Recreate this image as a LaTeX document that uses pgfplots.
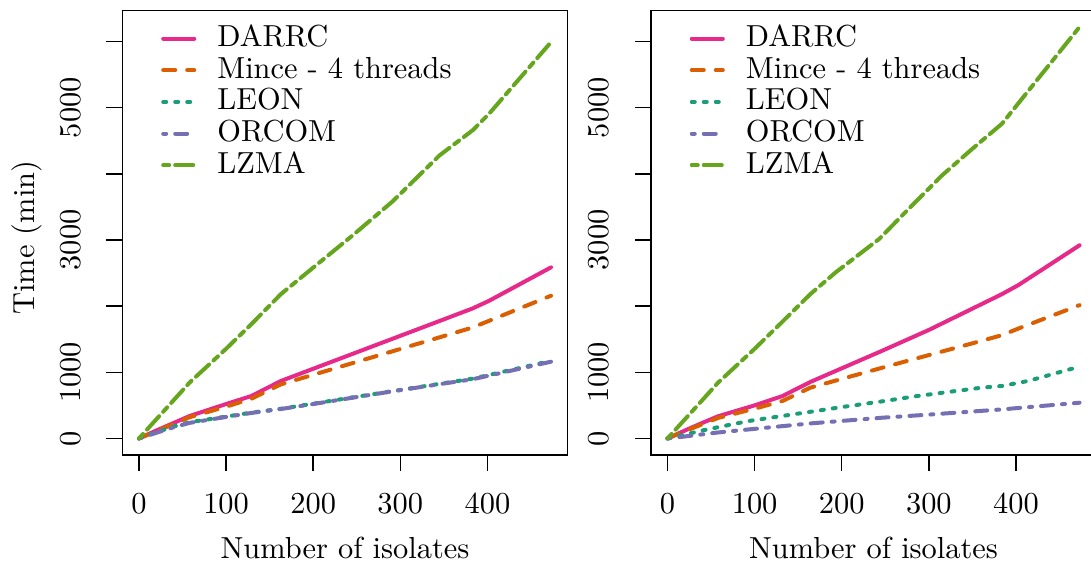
\documentclass[11pt,border=0pt]{standalone}
\usepackage{pgfplots}
\pgfplotsset{compat=1.18}

% Dark2 palette
\definecolor{cDARRC}{HTML}{E7298A}
\definecolor{cMince}{HTML}{D95F02}
\definecolor{cLEON}{HTML}{1B9E77}
\definecolor{cORCOM}{HTML}{7570B3}
\definecolor{cLZMA}{HTML}{66A61E}

\pgfplotsset{
  lDARRC/.style={cDARRC, line width=1.44pt, solid, line cap=round, line join=round},
  lMince/.style={cMince, line width=1.44pt, dash pattern=on 4.32pt off 4.32pt, line cap=round, line join=round},
  lLEON/.style={cLEON, line width=1.44pt, dash pattern=on 1.08pt off 3.24pt, line cap=round, line join=round},
  lORCOM/.style={cORCOM, line width=1.44pt, dash pattern=on 1.08pt off 3.24pt on 4.32pt off 3.24pt, line cap=round, line join=round},
  lLZMA/.style={cLZMA, line width=1.44pt, dash pattern=on 2.16pt off 2.16pt on 6.48pt off 2.16pt, line cap=round, line join=round},
  rpanel/.style={
    scale only axis, width=160.2pt, height=160.0pt,
    xmin=-18.9, xmax=491.9, ymin=-248.8, ymax=6468.8,
    axis line style={line width=0.5pt},
    every tick/.style={black, line width=0.5pt},
    tick align=outside, major tick length=5.8pt, tick pos=left,
    xtick={0,100,...,400}, ytick={0,1000,...,6000},
    yticklabels={0,1000,{},3000,{},5000,{}},
    xticklabel style={anchor=base, yshift=-15.2pt},
    yticklabel style={xshift=-9.4pt, rotate=90, anchor=base},
    xlabel={Number of isolates},
    xlabel style={at={(axis description cs:0.5,0)}, anchor=base, yshift=-37.2pt},
    legend style={draw=none, fill=none, at={(axis description cs:0.087,0.970)},
      anchor=north west, inner sep=0pt, outer sep=0pt, row sep=0pt, column sep=7.6pt,
      nodes={inner sep=0pt, text height=8.2pt, text depth=3.2pt}},
    legend cell align=left,
    legend image code/.code={\draw[##1] (0.72pt,0.4pt) -- (11.9pt,0.4pt);},
  },
}

\begin{document}
\begin{tikzpicture}
\begin{axis}[rpanel, at={(0pt,0pt)}, anchor=north west,
  ylabel={Time (min)},
  ylabel style={at={(axis description cs:-0.198,0.489)}, anchor=base},
]
\addplot[lDARRC] coordinates {(0,0) (20,120) (40,235) (58,338) (100,520) (129,641) (163,869) (200,1053) (245,1277) (291,1506) (345,1775) (383,1965) (402,2081) (473,2586)};
\addplot[lMince] coordinates {(0,0) (20,110) (40,220) (58,320) (100,480) (129,600) (163,818) (200,962) (245,1138) (291,1317) (345,1528) (383,1677) (402,1778) (473,2157)};
\addplot[lLEON] coordinates {(0,0) (20,95) (40,180) (58,245) (100,330) (129,390) (163,449) (200,525) (245,620) (291,715) (345,825) (383,904) (402,960) (473,1172)};
\addplot[lORCOM] coordinates {(0,0) (20,85) (40,170) (58,235) (100,325) (129,385) (163,445) (200,520) (245,615) (291,712) (345,820) (383,895) (402,950) (473,1160)};
\addplot[lLZMA] coordinates {(0,0) (20,290) (40,580) (58,843) (100,1355) (129,1727) (163,2182) (200,2582) (245,3066) (291,3581) (345,4278) (383,4657) (402,4909) (473,5990)};
\legend{DARRC, Mince - 4 threads, LEON, ORCOM, LZMA}
\end{axis}
\begin{axis}[rpanel, at={(190.3pt,0pt)}, anchor=north west]
\addplot[lDARRC] coordinates {(0,0) (20,120) (40,235) (58,335) (100,500) (132,641) (164,854) (200,1060) (246,1323) (300,1640) (345,1930) (384,2182) (403,2320) (473,2920)};
\addplot[lMince] coordinates {(0,0) (20,110) (40,215) (58,310) (100,450) (132,566) (164,768) (200,900) (254,1096) (300,1260) (345,1420) (384,1561) (403,1662) (473,2015)};
\addplot[lLEON] coordinates {(0,0) (20,60) (40,120) (58,170) (93,263) (132,340) (164,403) (200,474) (246,560) (284,636) (322,702) (361,768) (384,793) (414,869) (473,1086)};
\addplot[lORCOM] coordinates {(0,0) (17,25) (55,86) (93,136) (164,227) (246,313) (300,360) (384,439) (473,540)};
\addplot[lLZMA] coordinates {(0,0) (20,290) (40,580) (58,843) (100,1355) (129,1727) (164,2182) (193,2510) (243,3015) (273,3419) (315,3975) (350,4379) (384,4758) (407,5136) (473,6220)};
\legend{DARRC, Mince - 4 threads, LEON, ORCOM, LZMA}
\end{axis}
\pgfresetboundingbox
\useasboundingbox (-44.1pt,3.78pt) rectangle (348.7pt,-199.3pt);
\end{tikzpicture}
\end{document}
